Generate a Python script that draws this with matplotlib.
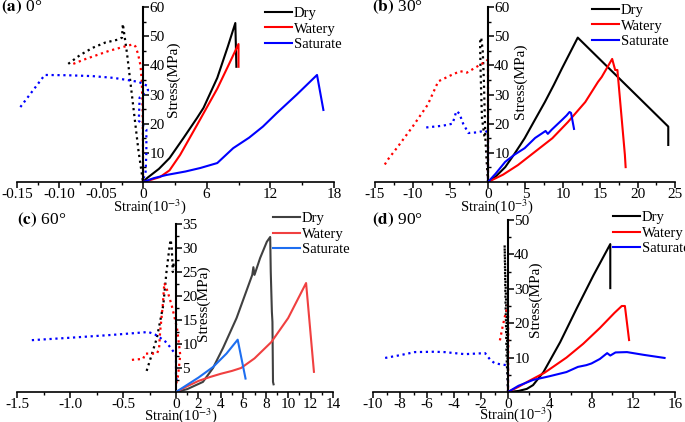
#!/usr/bin/env python3

# stress-strain curves of rock samples, four bedding angles
# left half of each panel: lateral strain (dotted), right half: axial strain (solid)
import matplotlib.pyplot as plt
import numpy as np

plt.rcParams['font.family'] = ['Liberation Serif', 'DejaVu Serif']
plt.rcParams['mathtext.fontset'] = 'stix'

labels = ['Dry', 'Watery', 'Saturate']

# ---- panel (a) 0 deg ----
a_dry_lat_x = [-0.089, -0.075, -0.06, -0.045, -0.03, -0.025, -0.024, -0.019, -0.0145, -0.010, -0.0055, -0.003, 0]
a_dry_lat_y = [40.5, 43.5, 46, 47.8, 48.8, 49.5, 54.2, 44, 33, 22, 11, 6, 0]
a_wat_lat_x = [-0.083, -0.07, -0.055, -0.04, -0.025, -0.012, -0.009, -0.006, -0.003, -0.0015, -0.0005, 0, 0]
a_wat_lat_y = [40.5, 42, 43.5, 45, 46.2, 47.2, 46.5, 44, 40, 35, 25, 12, 0]
a_sat_lat_x = [-0.146, -0.117, -0.09, -0.06, -0.035, -0.015, -0.005, 0.005, 0.006, -0.004, -0.005, 0.004, 0.004, 0.003, 0.001, 0]
a_sat_lat_y = [25.7, 36.7, 36.6, 36.3, 35.7, 34.8, 34.3, 33, 31.5, 29, 21, 18, 10, 3, 1.5, 0]
a_dry_x = [0, 0.4, 1.5, 2.5, 3.8, 5.1, 5.7, 7.0, 8.0, 8.7, 8.8]
a_dry_y = [0, 1.4, 4.5, 8.2, 15, 22, 25.4, 35.7, 46.5, 54.5, 39.5]
a_wat_x = [0, 0.8, 1.6, 2.5, 3.5, 5.1, 7.0, 8.0, 9.0, 9.0]
a_wat_y = [0, 0.8, 1.7, 4, 9.3, 19.6, 32, 39.6, 47.3, 39.5]
a_sat_x = [0, 1, 2.2, 4, 5.4, 7.0, 8.5, 10, 11.3, 12.6, 14.5, 16.4, 17.0]
a_sat_y = [0, 1.3, 2.4, 3.6, 4.8, 6.5, 11.6, 15.2, 19, 23.6, 30, 36.7, 24.7]

# ---- panel (b) 30 deg ----
b_dry_lat_x = [0, -0.2, -0.35, -0.45, -0.55, -0.7, -0.9, -1.05, -1.0, -0.9, -0.8, -0.5, -0.3]
b_dry_lat_y = [0, 8, 15, 25, 35, 45, 49.5, 48, 40, 30, 22, 16, 14.5]
b_wat_lat_x = [-13.7, -13.2, -12, -10, -8, -6.6, -5, -3.7, -2.8, -1.5, -0.2, 0, 0]
b_wat_lat_y = [6, 8, 12, 19, 26.5, 34.5, 36.5, 38, 37.5, 39.5, 41.5, 42, 0]
b_sat_lat_x = [-8.2, -6, -4.7, -4.2, -3.8, -3.3, -2.6, -1.5, -0.4, 0, 0]
b_sat_lat_y = [18.7, 19.3, 20, 24.3, 23.5, 20, 16.8, 17, 17.6, 17, 0]
b_dry_x = [0, 1, 2.3, 3.5, 4.9, 6.2, 7.6, 8.8, 9.9, 11, 12, 24.1, 24.1]
b_dry_y = [0, 1.8, 5.1, 9.5, 15, 21, 27.4, 33.3, 39, 44.5, 49.5, 19, 12.7]
b_wat_x = [0, 2, 4, 6, 8.6, 10.7, 13, 14.7, 15.2, 16.6, 17.0, 17.3, 18.3, 18.4]
b_wat_y = [0, 2.5, 5.8, 9.8, 15, 20.6, 27.4, 34.3, 36, 42.2, 38.4, 38.4, 9.3, 5.1]
b_sat_x = [0, 1, 2.3, 3.5, 4.9, 6.3, 7.7, 8.0, 8.5, 9.9, 10.5, 10.9, 11.1, 11.5]
b_sat_y = [0, 2.8, 6.9, 9.3, 11.6, 15.1, 17.5, 16.5, 17.9, 21.3, 22.8, 24, 23.7, 18.2]

# ---- panel (c) 60 deg ----
c_dry_lat_x = [-0.277, -0.24, -0.18, -0.12, -0.09, -0.06, -0.05, -0.04, -0.03, -0.025, -0.02]
c_dry_lat_y = [4.4, 7, 11.3, 18.1, 25, 30.5, 31.7, 30, 25, 27, 25.5]
c_wat_lat_x = [-0.416, -0.31, -0.29, -0.18, -0.16, -0.15, -0.125, -0.11, -0.08, -0.04, 0.01, 0.04, 0.02, 0.0]
c_wat_lat_y = [6.7, 6.9, 8, 8, 9, 12.5, 18, 22.7, 21, 18, 13.3, 7.7, 3.5, 1.5]
c_sat_lat_x = [-1.36, -1.0, -0.6, -0.26, -0.2, -0.15, -0.1, -0.057, -0.02, 0, 0, 0.005]
c_sat_lat_y = [10.8, 11.3, 11.9, 12.5, 12, 11.3, 10.5, 9.4, 8.3, 7.7, 3.5, 2.5]
c_dry_x = [0, 1, 2.4, 3.3, 4.2, 5.4, 6.8, 6.9, 7.0, 7.5, 8.1, 8.4, 8.45, 8.55, 8.6, 8.65, 8.7]
c_dry_y = [0, 0.6, 2.1, 5, 9.2, 15.4, 24.4, 26, 24.4, 27.9, 31.3, 32.3, 25, 16.7, 14.6, 2.1, 1.6]
c_wat_x = [0, 1, 2, 3, 4, 5, 5.8, 7, 8.5, 10, 11.6, 12.3]
c_wat_y = [0, 1.2, 2.3, 3.1, 3.8, 4.4, 5, 7, 10.4, 15.4, 22.7, 4.2]
c_sat_x = [0, 1, 2, 3.3, 4.5, 5.5, 6.2]
c_sat_y = [0, 1.5, 3, 5.2, 8, 10.9, 2.8]

# ---- panel (d) 90 deg ----
d_dry_lat_x = [0, -0.1, -0.15, -0.2, -0.25, -0.2, -0.1, 0]
d_dry_lat_y = [0, 10, 20, 30, 42.7, 35, 20, 5]
d_wat_lat_x = [-0.6, -0.4, -0.2, 0, 0.02, 0]
d_wat_lat_y = [15, 19, 22.5, 25.3, 15, 0]
d_sat_lat_x = [-9.1, -8, -6.9, -5.5, -4.7, -3.2, -1.7, -1.3, -1.0, -0.5, -0.1, 0, 0]
d_sat_lat_y = [9.9, 10.7, 11.6, 11.7, 11.6, 11, 11.3, 9.3, 8.4, 8, 7.8, 7.5, 0]
d_dry_x = [0, 1, 1.8, 2.4, 3.4, 5.0, 6.6, 8.2, 9.8, 9.8]
d_dry_y = [0, 0.3, 0.9, 2, 5.8, 14.5, 24.4, 34, 43, 30.2]
d_wat_x = [0, 1, 2, 3.5, 5.6, 7.2, 8.8, 10.2, 10.9, 11.2, 11.6]
d_wat_y = [0, 1.5, 3.2, 5.6, 10, 14, 18.6, 23, 25, 25, 15.1]
d_sat_x = [0, 1, 2.4, 4, 5.6, 6.7, 7.5, 8.0, 8.8, 9.5, 9.8, 10.3, 11.4, 13, 15.0]
d_sat_y = [0, 1.8, 3.5, 4.6, 5.8, 7.3, 7.8, 8.3, 9.6, 11.3, 10.6, 11.5, 11.6, 10.8, 9.9]

# ---- ticks ----
a_left_ticks = [-0.15, -0.10, -0.05, 0]
a_left_labels = ['-0.15', '-0.10', '-0.05', '0']
a_right_ticks = [6, 12, 18]
b_left_ticks = [-15, -10, -5, 0]
b_left_labels = ['-15', '-10', '-5', '0']
b_right_ticks = [5, 10, 15, 20, 25]
c_left_ticks = [-1.5, -1.0, -0.5, 0]
c_left_labels = ['-1.5', '-1.0', '-0.5', '0']
c_right_ticks = [2, 4, 6, 8, 10, 12, 14]
d_left_ticks = [-10, -8, -6, -4, -2, 0]
d_left_labels = ['-10', '-8', '-6', '-4', '-2', '0']
d_right_ticks = [4, 8, 12, 16]

W, H = 685, 422
FS = 11


def fx(px):
    return px / W


def fy(py):
    return 1 - py / H


def panel(fig, box, lat, ax_data, colors, lat_colors, lticks, llabels, rticks,
          ymax, ystep, title, title_xy, ylab_xy, xlab_xy, leg_xy):
    # box = (x_left, x_zero, x_right, y_top, y_bottom) in pixels
    xl, x0, xr, yt, yb = box
    h = (yb - yt) / H
    axl = fig.add_axes([fx(xl), fy(yb), (x0 - xl) / W, h])
    axr = fig.add_axes([fx(x0), fy(yb), (xr - x0) / W, h])
    for ax in (axl, axr):
        ax.set_facecolor('none')
        ax.set_ylim(0, ymax)
        ax.spines['top'].set_visible(False)
        ax.spines['left'].set_visible(False)
        ax.spines['bottom'].set_linewidth(1.2)
        ax.tick_params(axis='x', direction='out', length=4, width=1.1,
                       labelsize=FS, pad=0.5)
        ax.tick_params(axis='x', which='minor', direction='out', length=2.5, width=1.0)
    axr.spines['right'].set_visible(False)
    axl.spines['right'].set_linewidth(1.5)

    # lateral part
    for (x, y), c in zip(lat, lat_colors):
        axl.plot(x, y, ls=':', lw=1.6, color=c, clip_on=False)
    axl.set_xlim(lticks[0], 0)
    axl.set_xticks(lticks)
    axl.set_xticklabels(llabels)
    step = lticks[1] - lticks[0]
    axl.set_xticks(np.arange(lticks[0] + step / 2, 0, step), minor=True)

    # y axis sits on the zero line
    axl.yaxis.tick_right()
    axl.set_yticks(np.arange(ystep, ymax + ystep / 2, ystep))
    axl.set_yticks(np.arange(ystep / 2, ymax, ystep), minor=True)
    axl.tick_params(axis='y', direction='out', length=4, width=1.1,
                    labelsize=FS, pad=0.5)
    axl.tick_params(axis='y', which='minor', direction='out', length=2.5, width=1.0)

    # axial part
    handles = []
    for (x, y), c in zip(ax_data, colors):
        ln, = axr.plot(x, y, lw=1.5, color=c)
        handles.append(ln)
    axr.set_xlim(0, rticks[-1])
    axr.set_xticks(rticks)
    step = rticks[1] - rticks[0]
    axr.set_xticks(np.arange(step / 2, rticks[-1], step), minor=True)
    axr.set_yticks([])

    axr.legend(handles, labels, loc='upper left', bbox_to_anchor=(fx(leg_xy[0]), fy(leg_xy[1])),
               bbox_transform=fig.transFigure, frameon=False, fontsize=10.5,
               handlelength=1.85, handletextpad=0.12, labelspacing=0.15,
               borderpad=0, borderaxespad=0)

    fig.text(fx(title_xy[0]), fy(title_xy[1]), title, fontsize=12.5, ha='left', va='center')
    fig.text(fx(ylab_xy[0]), fy(ylab_xy[1]), 'Stress(MPa)', fontsize=FS,
             rotation=90, ha='center', va='center')
    fig.text(fx(xlab_xy[0]), fy(xlab_xy[1]), 'Strain(10$^{-3}$)', fontsize=10.5,
             ha='center', va='center')


def main():
    fig = plt.figure(figsize=(W / 100, H / 100), dpi=100)

    pure = ['black', '#ff0000', '#0000ff']
    soft = ['#404040', '#f04040', '#1e6ef0']

    panel(fig, (17, 143, 334, 7, 182),
          [(a_dry_lat_x, a_dry_lat_y), (a_wat_lat_x, a_wat_lat_y), (a_sat_lat_x, a_sat_lat_y)],
          [(a_dry_x, a_dry_y), (a_wat_x, a_wat_y), (a_sat_x, a_sat_y)],
          pure, pure, a_left_ticks, a_left_labels, a_right_ticks, 60, 10,
          r'$\mathbf{(a)}$ 0°', (1, 7), (173, 79), (150, 207), (265, 7))

    panel(fig, (375, 488, 675, 7, 182),
          [(b_dry_lat_x, b_dry_lat_y), (b_wat_lat_x, b_wat_lat_y), (b_sat_lat_x, b_sat_lat_y)],
          [(b_dry_x, b_dry_y), (b_wat_x, b_wat_y), (b_sat_x, b_sat_y)],
          pure, pure, b_left_ticks, b_left_labels, b_right_ticks, 60, 10,
          r'$\mathbf{(b)}$ 30°', (372, 7), (520, 81), (497, 207), (592, 4))

    panel(fig, (17, 176, 333, 224, 392),
          [(c_dry_lat_x, c_dry_lat_y), (c_wat_lat_x, c_wat_lat_y), (c_sat_lat_x, c_sat_lat_y)],
          [(c_dry_x, c_dry_y), (c_wat_x, c_wat_y), (c_sat_x, c_sat_y)],
          soft, pure, c_left_ticks, c_left_labels, c_right_ticks, 35, 5,
          r'$\mathbf{(c)}$ 60°', (17, 220), (203, 303), (181, 416), (273, 212))

    panel(fig, (373, 508, 675, 220, 392),
          [(d_dry_lat_x, d_dry_lat_y), (d_wat_lat_x, d_wat_lat_y), (d_sat_lat_x, d_sat_lat_y)],
          [(d_dry_x, d_dry_y), (d_wat_x, d_wat_y), (d_sat_x, d_sat_y)],
          pure, pure, d_left_ticks, d_left_labels, d_right_ticks, 50, 10,
          r'$\mathbf{(d)}$ 90°', (372, 220), (535, 299), (516, 415), (613, 211))

    fig.savefig('out.png', dpi=100)


if __name__ == '__main__':
    main()
